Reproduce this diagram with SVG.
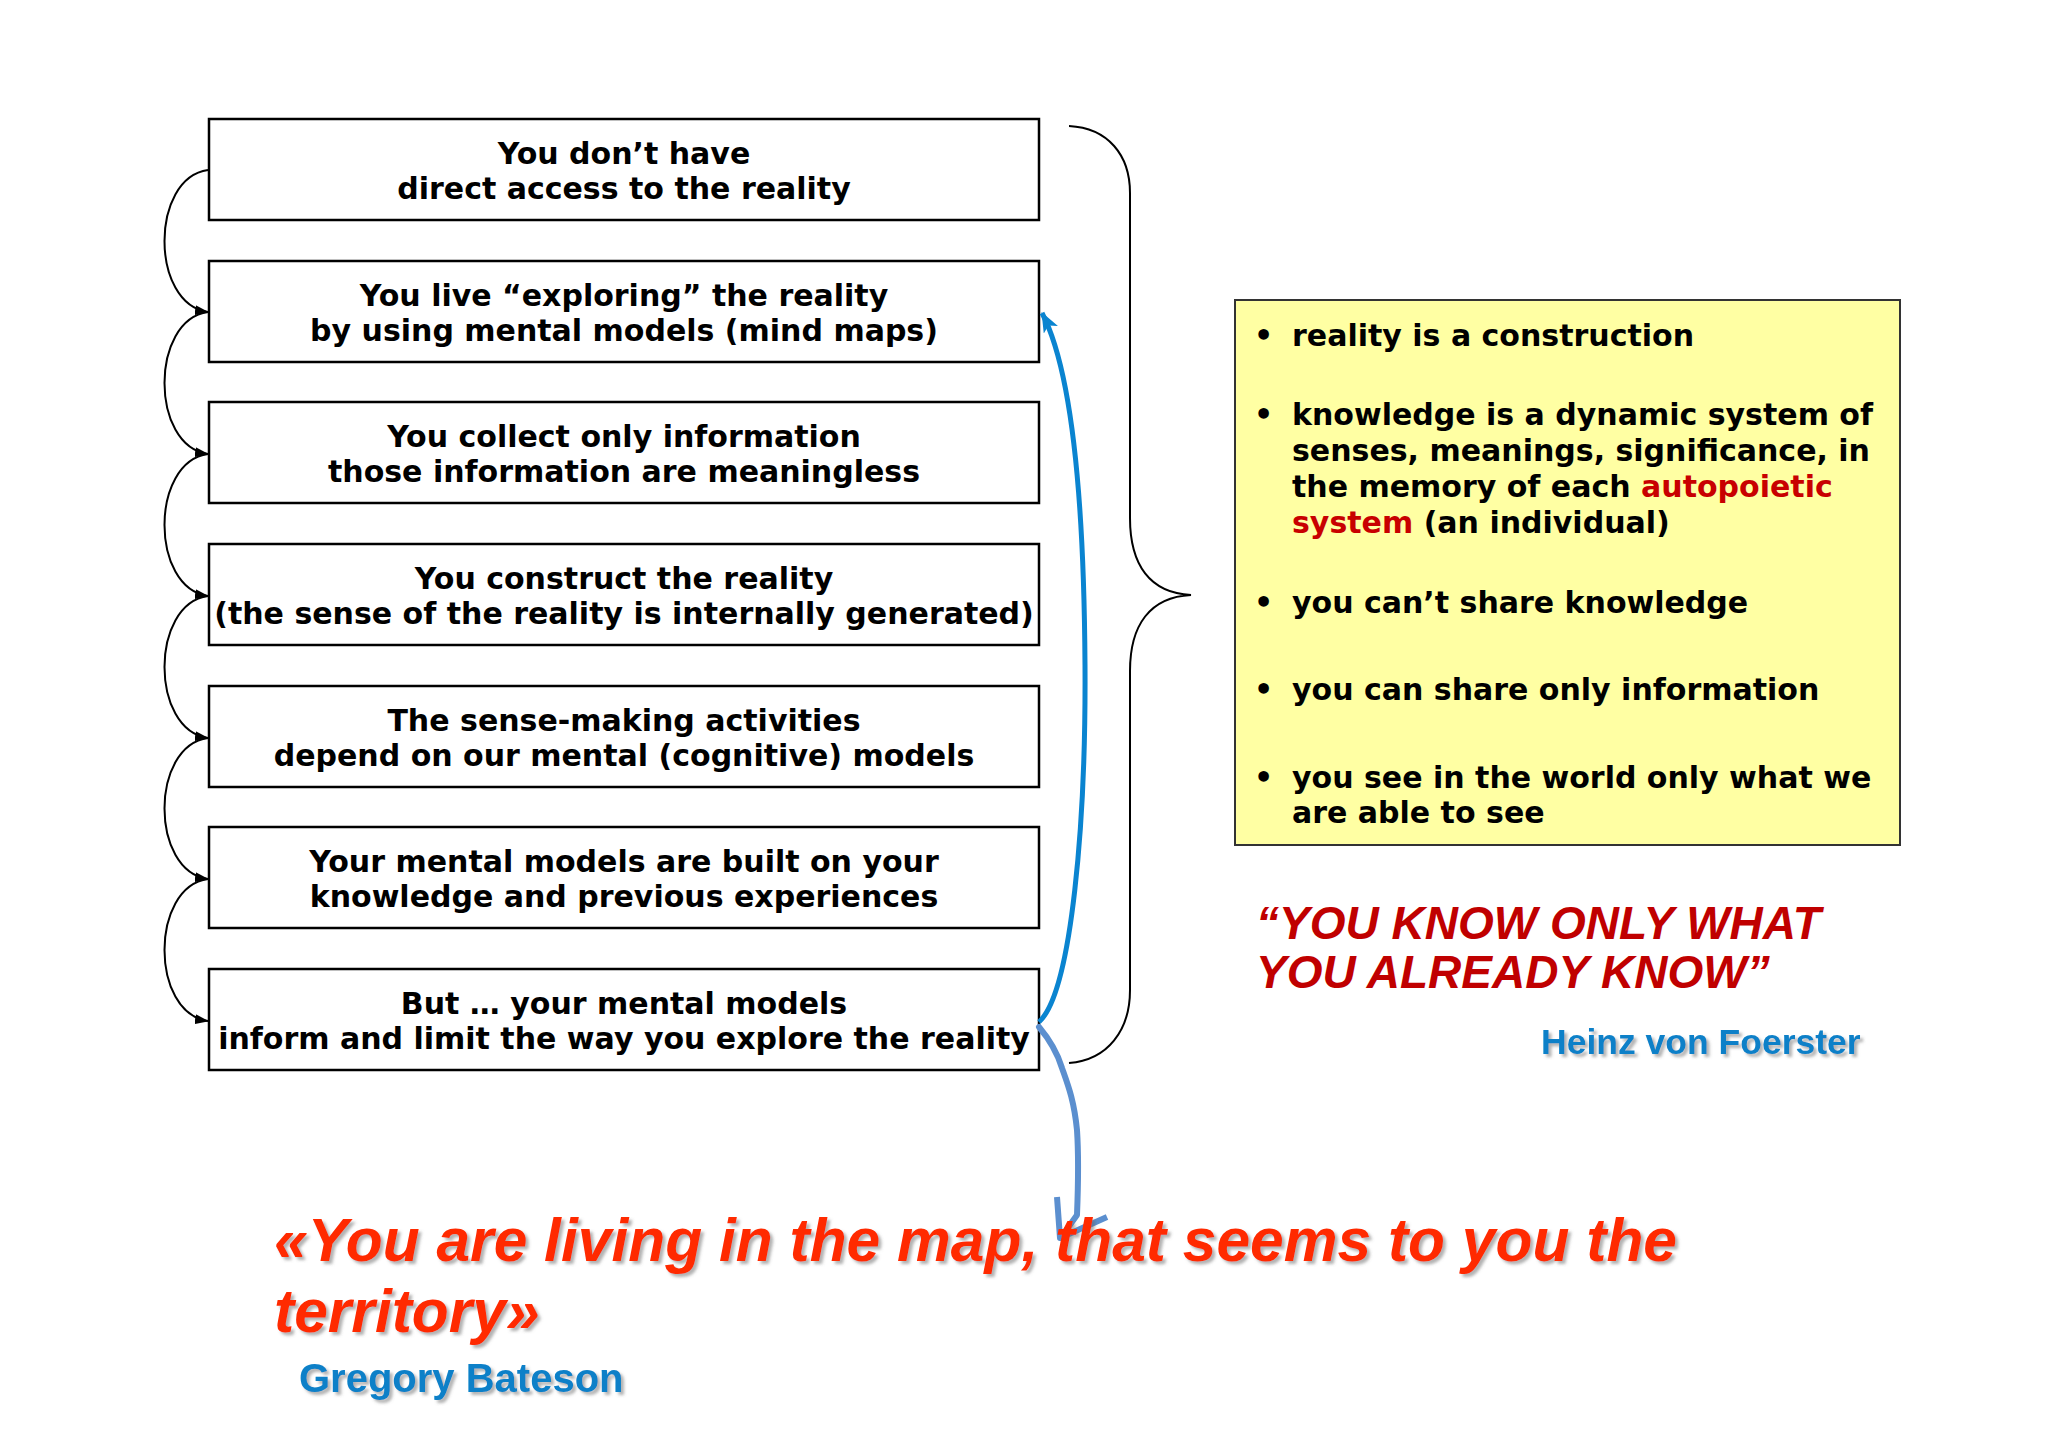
<svg xmlns="http://www.w3.org/2000/svg" width="2048" height="1447" viewBox="0 0 2048 1447">
<defs>
<style>
.box{fill:#fff;stroke:#000;stroke-width:2.5}
.bt{font-family:"DejaVu Sans",Verdana,sans-serif;font-weight:bold;font-size:30px;fill:#000;text-anchor:middle}
.yt{font-family:"DejaVu Sans",Verdana,sans-serif;font-weight:bold;font-size:30px;fill:#000}
.red{fill:#C80000}
.arc{fill:none;stroke:#000;stroke-width:2}
.q1{font-family:"Liberation Sans",Arial,sans-serif;font-weight:bold;font-style:italic;font-size:46px;fill:#C00000}
.q2{font-family:"Liberation Sans",Arial,sans-serif;font-weight:bold;font-style:italic;font-size:60.5px;fill:#FF2A00}
.nm{font-family:"Liberation Sans",Arial,sans-serif;font-weight:bold;fill:#0A80C8}
</style>
<marker id="ah" viewBox="0 0 14 10" refX="13" refY="5" markerWidth="14" markerHeight="10" markerUnits="userSpaceOnUse" orient="auto">
<path d="M0,0 L14,5 L0,10 Z" fill="#000"/>
</marker>
<marker id="bh" viewBox="0 0 20 16" refX="19" refY="8" markerWidth="20" markerHeight="16" markerUnits="userSpaceOnUse" orient="auto">
<path d="M0,0 L20,8 L0,16 L5,8 Z" fill="#0A84D0"/>
</marker>
<filter id="sh" x="-5%" y="-20%" width="110%" height="150%">
<feDropShadow dx="3" dy="3" stdDeviation="1.5" flood-color="#666" flood-opacity="0.5"/>
</filter>
</defs>
<rect width="2048" height="1447" fill="#fff"/>

<g id="n1"><rect class="box" x="209" y="119" width="830" height="101"/>
<text class="bt" x="624" y="164">You don’t have</text><text class="bt" x="624" y="199">direct access to the reality</text></g>
<g id="n2"><rect class="box" x="209" y="261" width="830" height="101"/>
<text class="bt" x="624" y="306">You live “exploring” the reality</text><text class="bt" x="624" y="341">by using mental models (mind maps)</text></g>
<g id="n3"><rect class="box" x="209" y="402" width="830" height="101"/>
<text class="bt" x="624" y="447">You collect only information</text><text class="bt" x="624" y="482">those information are meaningless</text></g>
<g id="n4"><rect class="box" x="209" y="544" width="830" height="101"/>
<text class="bt" x="624" y="589">You construct the reality</text><text class="bt" x="624" y="624">(the sense of the reality is internally generated)</text></g>
<g id="n5"><rect class="box" x="209" y="686" width="830" height="101"/>
<text class="bt" x="624" y="731">The sense-making activities</text><text class="bt" x="624" y="766">depend on our mental (cognitive) models</text></g>
<g id="n6"><rect class="box" x="209" y="827" width="830" height="101"/>
<text class="bt" x="624" y="872">Your mental models are built on your</text><text class="bt" x="624" y="907">knowledge and previous experiences</text></g>
<g id="n7"><rect class="box" x="209" y="969" width="830" height="101"/>
<text class="bt" x="624" y="1014">But … your mental models</text><text class="bt" x="624" y="1049">inform and limit the way you explore the reality</text></g>

<g id="connectors">
<path class="arc" marker-end="url(#ah)" d="M208,170 C150,178 150,304 208,312"/>
<path class="arc" marker-end="url(#ah)" d="M208,312 C150,320 150,446 208,454"/>
<path class="arc" marker-end="url(#ah)" d="M208,454 C150,462 150,588 208,596"/>
<path class="arc" marker-end="url(#ah)" d="M208,596 C150,604 150,730 208,738"/>
<path class="arc" marker-end="url(#ah)" d="M208,738 C150,746 150,871 208,879"/>
<path class="arc" marker-end="url(#ah)" d="M208,879 C150,887 150,1013 208,1021"/>
<path d="M1039,1022 C1072,992 1086,820 1085,665 C1084,500 1072,370 1042,313" fill="none" stroke="#0A84D0" stroke-width="5" marker-end="url(#bh)"/>
<path d="M1039,1027 C1050,1040 1058,1055 1062,1068 C1068,1085 1074,1100 1077,1130 C1079,1160 1078,1190 1077,1215 L1062,1236" fill="none" stroke="#5B8FCF" stroke-width="6" stroke-linejoin="round" stroke-linecap="round"/>
<path d="M1057,1197 L1060,1238 L1107,1217" fill="none" stroke="#5B8FCF" stroke-width="6" stroke-linejoin="round"/>
</g>

<g id="brace"><path d="M1069,126 C1108,128 1130,155 1130,193 L1130,518 C1130,565 1150,593 1191,595 C1150,597 1130,625 1130,671 L1130,990 C1130,1030 1108,1060 1069,1063" fill="none" stroke="#000" stroke-width="2"/></g>

<g id="summary">
<rect x="1235" y="300" width="665" height="545" fill="#FFFFA3" stroke="#333" stroke-width="2"/>
<text class="yt" x="1254" y="346">•</text><text class="yt" x="1292" y="346">reality is a construction</text>
<text class="yt" x="1254" y="425">•</text><text class="yt" x="1292" y="425">knowledge is a dynamic system of</text>
<text class="yt" x="1292" y="461">senses, meanings, significance, in</text>
<text class="yt" x="1292" y="497">the memory of each <tspan class="red">autopoietic</tspan></text>
<text class="yt" x="1292" y="533"><tspan class="red">system</tspan> (an individual)</text>
<text class="yt" x="1254" y="613">•</text><text class="yt" x="1292" y="613">you can’t share knowledge</text>
<text class="yt" x="1254" y="700">•</text><text class="yt" x="1292" y="700">you can share only information</text>
<text class="yt" x="1254" y="788">•</text><text class="yt" x="1292" y="788">you see in the world only what we</text>
<text class="yt" x="1292" y="823">are able to see</text>
</g>

<g id="quote1">
<text class="q1" x="1256" y="939">“YOU KNOW ONLY WHAT</text>
<text class="q1" x="1256" y="988">YOU ALREADY KNOW”</text>
<text class="nm" x="1541" y="1054" font-size="35.5" filter="url(#sh)">Heinz von Foerster</text>
</g>

<g id="quote2">
<text class="q2" x="274" y="1261" filter="url(#sh)">«You are living in the map, that seems to you the</text>
<text class="q2" x="274" y="1332" filter="url(#sh)">territory»</text>
<text class="nm" x="299" y="1392" font-size="40" filter="url(#sh)">Gregory Bateson</text>
</g>
</svg>
